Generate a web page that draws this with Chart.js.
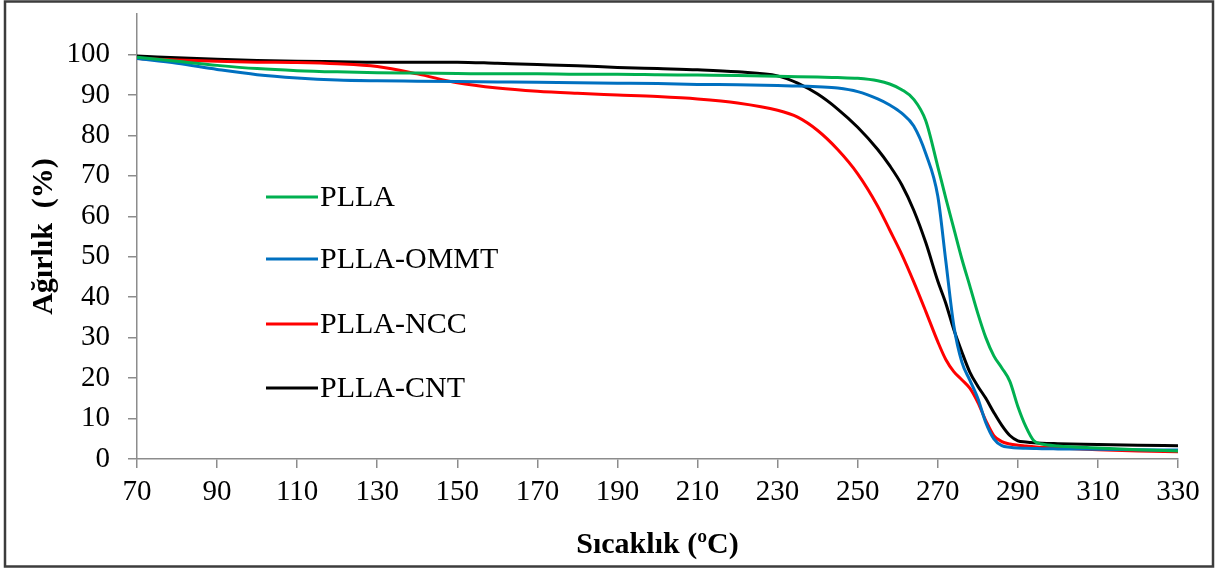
<!DOCTYPE html>
<html>
<head>
<meta charset="utf-8">
<script src="https://cdn.jsdelivr.net/npm/chart.js@4.4.0/dist/chart.umd.min.js"></script>
<style>
  html, body { margin: 0; padding: 0; background: #fff; }
  canvas { display: block; }
</style>
</head>
<body>
<canvas id="tga" width="1217" height="569"></canvas>
<script>
// temperature grid (°C)
const temps = [70, 80, 90, 100, 110, 120, 130, 140, 150, 160, 170, 180, 190, 200, 210, 220, 230, 235, 240, 245, 250, 255, 258, 261, 264, 267, 270, 272, 274, 276, 278, 280, 282, 284, 286, 288, 290, 292, 294, 296, 300, 310, 320, 330];

// weight (%) for each sample
const plla = [99.3, 98.3, 97.3, 96.5, 96.0, 95.7, 95.5, 95.4, 95.3, 95.2, 95.2, 95.1, 95.1, 95.0, 94.9, 94.8, 94.6, 94.5, 94.4, 94.3, 94.1, 93.5, 92.7, 91.3, 88.9, 83.6, 72.3, 64.5, 57.0, 49.5, 42.8, 36.0, 30.0, 25.5, 22.5, 19.2, 13.0, 8.0, 4.5, 3.7, 3.2, 2.7, 2.3, 2.0];
const pllaOmmt = [99.0, 97.8, 96.3, 95.0, 94.2, 93.7, 93.5, 93.4, 93.3, 93.2, 93.1, 93.0, 92.9, 92.8, 92.6, 92.5, 92.3, 92.2, 92.0, 91.7, 90.8, 89.0, 87.5, 85.5, 82.3, 75.5, 65.0, 49.0, 33.0, 24.0, 19.5, 15.0, 9.0, 5.0, 3.3, 2.9, 2.7, 2.65, 2.6, 2.55, 2.5, 2.4, 2.3, 2.2];
const pllaNcc = [99.0, 98.6, 98.3, 98.1, 98.0, 97.7, 97.0, 95.2, 93.0, 91.7, 90.9, 90.4, 90.0, 89.6, 89.0, 88.0, 86.2, 84.5, 81.2, 76.5, 70.5, 62.5, 56.6, 50.6, 43.8, 36.5, 29.0, 24.6, 21.6, 19.6, 17.5, 14.0, 9.5, 5.8, 4.3, 3.7, 3.4, 3.2, 3.0, 2.9, 2.7, 2.3, 2.0, 1.8];
const pllaCnt = [99.6, 99.2, 98.8, 98.5, 98.3, 98.2, 98.1, 98.1, 98.1, 97.8, 97.5, 97.2, 96.8, 96.5, 96.2, 95.7, 94.7, 92.9, 90.2, 86.5, 82.0, 76.5, 72.5, 67.8, 61.5, 53.5, 44.0, 38.5, 32.0, 26.5, 21.5, 18.0, 15.0, 11.5, 8.3, 5.8, 4.5, 4.2, 4.0, 3.9, 3.8, 3.6, 3.4, 3.3];

const seriesNames = ['PLLA', 'PLLA-OMMT', 'PLLA-NCC', 'PLLA-CNT'];
const seriesColors = ['#00b050', '#0070c0', '#ff0000', '#000000'];
const seriesValues = [plla, pllaOmmt, pllaNcc, pllaCnt];

const xTicks = [70, 90, 110, 130, 150, 170, 190, 210, 230, 250, 270, 290, 310, 330];

const axisGray = '#8c8c8c';
const serif = "'Liberation Serif', 'Times New Roman', serif";

// legend sits inside the plot, drawn by hand
const insideLegend = {
  id: 'insideLegend',
  afterDraw(chart) {
    const ctx = chart.ctx;
    const rows = [197, 259, 324, 388];
    ctx.save();
    ctx.font = '30px ' + serif;
    ctx.textBaseline = 'middle';
    ctx.textAlign = 'left';
    chart.data.datasets.forEach((ds, i) => {
      const y = rows[i];
      ctx.strokeStyle = ds.borderColor;
      ctx.lineWidth = 3;
      ctx.beginPath();
      ctx.moveTo(266, y);
      ctx.lineTo(318, y);
      ctx.stroke();
      ctx.fillStyle = '#000';
      ctx.fillText(ds.label, 320, y + 1);
    });
    ctx.restore();
  }
};

const frame = {
  id: 'frame',
  afterDraw(chart) {
    const ctx = chart.ctx;
    ctx.save();
    ctx.strokeStyle = '#3c3c3c';
    ctx.lineWidth = 2.5;
    ctx.strokeRect(5, 1.5, 1208, 565);
    ctx.restore();
  }
};

new Chart(document.getElementById('tga'), {
  type: 'line',
  data: {
    labels: temps,
    datasets: seriesNames.map((name, i) => ({
      label: name,
      data: temps.map((t, j) => ({ x: t, y: seriesValues[i][j] })),
      borderColor: seriesColors[i],
      backgroundColor: seriesColors[i],
      borderWidth: 3,
      pointRadius: 0,
      cubicInterpolationMode: 'monotone',
      fill: false
    }))
  },
  options: {
    responsive: false,
    animation: false,
    devicePixelRatio: 1,
    layout: { padding: { top: 14, right: 39, left: 0, bottom: 0 } },
    plugins: {
      legend: { display: false },
      tooltip: { enabled: false }
    },
    scales: {
      x: {
        type: 'linear',
        min: 70,
        max: 330,
        afterFit(scale) {
          scale.height = 110;
          scale.paddingLeft = 0;
          scale.paddingRight = 0;
        },
        afterBuildTicks(scale) { scale.ticks = xTicks.map(v => ({ value: v })); },
        grid: { drawOnChartArea: false, tickLength: 9, color: axisGray, lineWidth: 1.5 },
        border: { color: axisGray, width: 1.5 },
        ticks: { color: '#000', font: { family: serif, size: 29 }, padding: 7, maxRotation: 0, autoSkip: false },
        title: {
          display: true,
          text: 'Sıcaklık (ºC)',
          color: '#000',
          font: { family: serif, size: 30, weight: 'bold' },
          padding: { top: 0, bottom: 6 }
        }
      },
      y: {
        min: 0,
        max: 110,
        afterFit(scale) {
          scale.width = 137;
          scale.paddingTop = 0;
          scale.paddingBottom = 0;
        },
        grid: {
          drawOnChartArea: false,
          tickLength: 9,
          color: axisGray,
          lineWidth: 1.5,
          tickColor: c => (c.tick && c.tick.value === 110 ? 'rgba(0,0,0,0)' : axisGray)
        },
        border: { color: axisGray, width: 1.5 },
        ticks: {
          stepSize: 10,
          color: '#000',
          font: { family: serif, size: 29 },
          padding: 18,
          callback: v => (v === 110 ? '' : v)
        },
        title: {
          display: true,
          text: 'Ağırlık  (%)',
          color: '#000',
          font: { family: serif, size: 30, weight: 'bold' },
          padding: { top: 26, bottom: 0 }
        }
      }
    }
  },
  plugins: [insideLegend, frame]
});
</script>
</body>
</html>
